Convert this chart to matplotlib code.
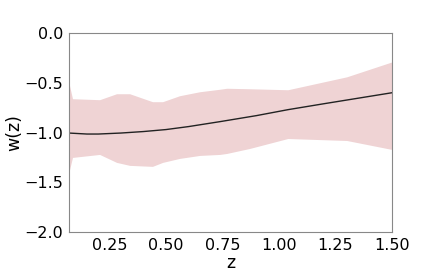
import numpy as np
import matplotlib
matplotlib.use('Agg')
import matplotlib.pyplot as plt

# Reconstruction of w(z) with its uncertainty band
z_mean = [0.07, 0.15, 0.20, 0.30, 0.40, 0.50, 0.60, 0.74, 0.90, 1.04, 1.20, 1.35, 1.50]
w_mean = [-1.005, -1.015, -1.015, -1.005, -0.99, -0.97, -0.94, -0.89, -0.83, -0.77, -0.71, -0.655, -0.60]

z_band = [0.07, 0.086, 0.206, 0.281, 0.339, 0.44, 0.485, 0.56, 0.649, 0.738, 0.769,
          0.87, 1.039, 1.30, 1.50]
w_upper = [-0.50, -0.66, -0.67, -0.61, -0.61, -0.69, -0.69, -0.63, -0.59, -0.565, -0.555,
           -0.56, -0.57, -0.44, -0.29]
w_lower = [-1.40, -1.25, -1.22, -1.30, -1.33, -1.34, -1.30, -1.26, -1.23, -1.22, -1.21,
           -1.16, -1.06, -1.08, -1.17]

fig = plt.figure(figsize=(4.36, 2.73), dpi=100)
ax = fig.add_axes([0.158, 0.150, 0.741, 0.729])

ax.fill_between(z_band, w_lower, w_upper, color='#efd3d4', linewidth=0)
ax.plot(z_mean, w_mean, color='#222222', linewidth=1.0)

ax.set_xlim(0.07, 1.5)
ax.set_ylim(-2.0, 0.0)
ax.set_xticks([0.25, 0.50, 0.75, 1.00, 1.25, 1.50])
ax.set_yticks([0.0, -0.5, -1.0, -1.5, -2.0])
ax.tick_params(length=0, labelsize=11.5, pad=4)
for s in ax.spines.values():
    s.set_color('#888888')
    s.set_linewidth(0.8)

ax.set_xlabel('z', fontsize=12.5, labelpad=1)
ax.set_ylabel('w(z)', fontsize=12.5, labelpad=1)

fig.savefig('out.png', dpi=100)
